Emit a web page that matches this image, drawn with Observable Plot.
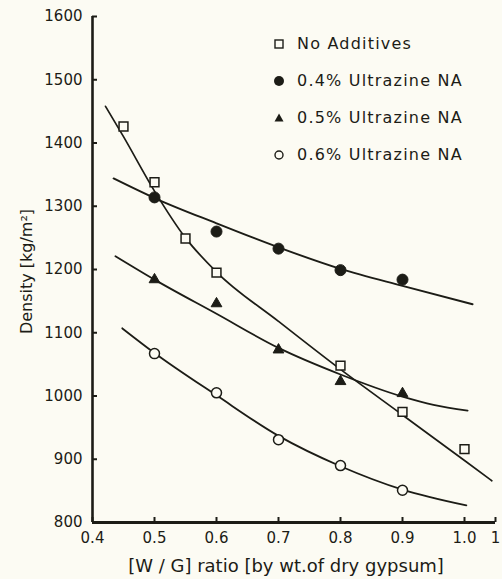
<!DOCTYPE html>
<html><head><meta charset="utf-8">
<script src="https://cdn.jsdelivr.net/npm/d3@7"></script>
<script src="https://cdn.jsdelivr.net/npm/@observablehq/plot@0.6"></script>
<style>
html,body{margin:0;padding:0;background:#fcfbf3;}
#wrap{position:relative;width:502px;height:579px;}
#legend{position:absolute;left:270px;top:25px;font:16px "DejaVu Sans",sans-serif;color:#1c1c16;letter-spacing:1.2px}
.row{height:37px;display:flex;align-items:center;white-space:nowrap}
.row svg{width:18px;height:14px;margin-right:9px}
</style></head><body><div id="wrap"><div id="legend"></div></div>
<script>
// ---- data ----
const seriesNames = ["No Additives", "0.4% Ultrazine NA", "0.5% Ultrazine NA", "0.6% Ultrazine NA"];

const noAddX = [0.45, 0.5, 0.55, 0.6, 0.8, 0.9, 1.0];
const noAddY = [1426, 1338, 1249, 1195, 1048, 975, 916];
const p04X = [0.5, 0.6, 0.7, 0.8, 0.9];
const p04Y = [1314, 1260, 1233, 1199, 1184];
const p05X = [0.5, 0.6, 0.7, 0.8, 0.9];
const p05Y = [1184, 1146, 1073, 1023, 1004];
const p06X = [0.5, 0.6, 0.7, 0.8, 0.9];
const p06Y = [1067, 1005, 931, 890, 851];

// fitted curves as drawn in the figure
const fitNoAddX = [0.421, 0.45, 0.5, 0.55, 0.6, 0.7, 0.8, 0.9, 1.0, 1.044];
const fitNoAddY = [1458, 1410, 1324, 1250, 1196, 1118, 1042, 970, 898, 866];
const fit04X = [0.434, 0.5, 0.6, 0.7, 0.8, 0.9, 1.013];
const fit04Y = [1344, 1313, 1273, 1235, 1201, 1174, 1145];
const fit05X = [0.437, 0.5, 0.6, 0.7, 0.8, 0.9, 0.95, 1.005];
const fit05Y = [1221, 1184, 1130, 1076, 1034, 999, 986, 977];
const fit06X = [0.448, 0.5, 0.6, 0.7, 0.8, 0.9, 1.003];
const fit06Y = [1107, 1068, 1001, 937, 889, 852, 827];

const yTicks = [800, 900, 1000, 1100, 1200, 1300, 1400, 1500, 1600];
const xTicks = [0.4, 0.5, 0.6, 0.7, 0.8, 0.9, 1.0, 1.05];
const xTickLabels = ["0.4", "0.5", "0.6", "0.7", "0.8", "0.9", "1.0", "1"];
const xTitle = "[W / G] ratio [by wt.of dry gypsum]";
const yTitle = "Density [kg/m²]";

// ---- build ----
const W = 502, H = 579, mL = 92, mR = 7, mT = 16, mB = 57;
const ink = "#1c1c16";
const paper = "#fcfbf3";
const zip = (xs, ys) => xs.map((x, i) => ({x, y: ys[i]}));

const chart = Plot.plot({
  width: W, height: H,
  marginLeft: mL, marginRight: mR, marginTop: mT, marginBottom: mB,
  style: {background: "transparent", fontFamily: "'DejaVu Sans', sans-serif", fontSize: "15px", color: ink},
  x: {domain: [0.4, 1.05]},
  y: {domain: [800, 1600]},
  marks: [
    // tick labels
    Plot.axisY({ticks: yTicks, tickSize: 0, tickPadding: 10, tickFormat: d => String(d), label: null, fill: ink}),
    Plot.axisX({ticks: xTicks, tickSize: 0, tickPadding: 10, tickFormat: d => xTickLabels[xTicks.indexOf(d)], label: null, fill: ink, letterSpacing: 2}),
    // inward tick marks
    Plot.tickY(yTicks, {y: d => d, stroke: ink, strokeWidth: 2, insetRight: (W - mL - mR) - 5}),
    Plot.tickX(xTicks, {x: d => d, stroke: ink, strokeWidth: 2, insetTop: (H - mT - mB) - 5}),
    // axis lines
    Plot.ruleX([0.4], {stroke: ink, strokeWidth: 2.6}),
    Plot.ruleY([800], {stroke: ink, strokeWidth: 2.8}),
    // fitted curves
    Plot.line(zip(fitNoAddX, fitNoAddY), {x: "x", y: "y", curve: "monotone-x", stroke: ink, strokeWidth: 1.7}),
    Plot.line(zip(fit04X, fit04Y), {x: "x", y: "y", curve: "monotone-x", stroke: ink, strokeWidth: 1.9}),
    Plot.line(zip(fit05X, fit05Y), {x: "x", y: "y", curve: "monotone-x", stroke: ink, strokeWidth: 1.8}),
    Plot.line(zip(fit06X, fit06Y), {x: "x", y: "y", curve: "monotone-x", stroke: ink, strokeWidth: 1.8}),
    // measured points
    Plot.dot(zip(noAddX, noAddY), {x: "x", y: "y", symbol: "square", r: 5, fill: paper, stroke: ink, strokeWidth: 1.5}),
    Plot.dot(zip(p04X, p04Y), {x: "x", y: "y", symbol: "circle", r: 5.5, fill: ink, stroke: ink, strokeWidth: 1}),
    Plot.dot(zip(p05X, p05Y), {x: "x", y: "y", symbol: "triangle", r: 4, fill: ink, stroke: ink, strokeWidth: 1}),
    Plot.dot(zip(p06X, p06Y), {x: "x", y: "y", symbol: "circle", r: 5, fill: paper, stroke: ink, strokeWidth: 1.5}),
    // axis titles
    Plot.text([yTitle], {frameAnchor: "left", textAnchor: "middle", lineAnchor: "middle", dx: -66, dy: 2, rotate: -90, fontSize: 16, fill: ink}),
    Plot.text([xTitle], {frameAnchor: "bottom", textAnchor: "middle", lineAnchor: "middle", dx: -8, dy: 44, fontSize: 18, fill: ink, letterSpacing: 1.2})
  ]
});
document.getElementById("wrap").prepend(chart);

// legend
const legendSymbols = [
  '<rect x="5" y="3" width="8" height="8" fill="none" stroke="' + ink + '" stroke-width="1.4"/>',
  '<circle cx="9" cy="7" r="5" fill="' + ink + '"/>',
  '<path d="M9,2.5 L13.5,10.5 L4.5,10.5 Z" fill="' + ink + '"/>',
  '<circle cx="9" cy="7" r="4" fill="none" stroke="' + ink + '" stroke-width="1.4"/>'
];
const legend = document.getElementById("legend");
seriesNames.forEach((name, i) => {
  const row = document.createElement("div");
  row.className = "row";
  row.innerHTML = '<svg viewBox="0 0 18 14">' + legendSymbols[i] + '</svg><span>' + name + '</span>';
  legend.appendChild(row);
});
</script>
</body></html>
